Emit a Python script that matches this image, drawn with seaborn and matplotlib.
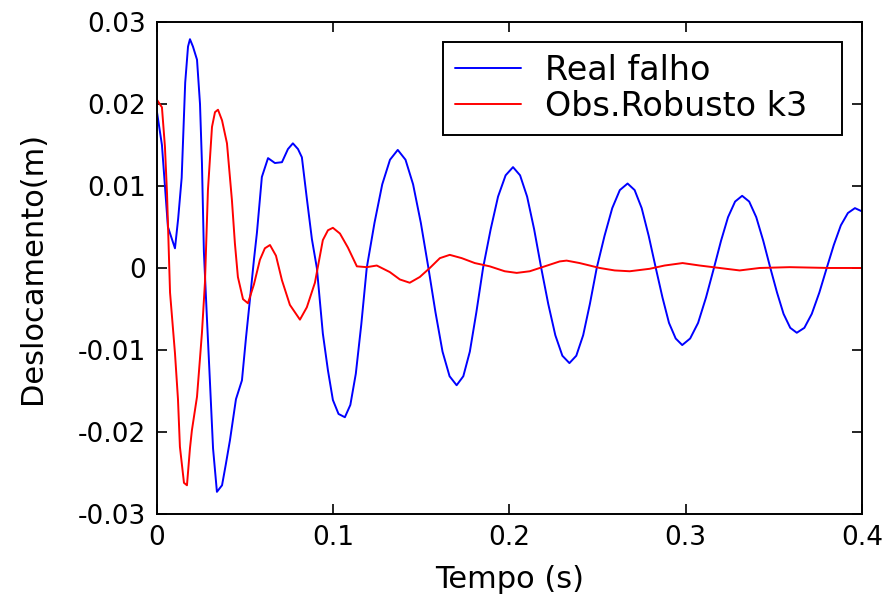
import numpy as np
import pandas as pd
import matplotlib
matplotlib.use("Agg")
import matplotlib.pyplot as plt
import seaborn as sns

# ---- data ----
t_real = [0.0, 0.0028, 0.0062, 0.0102, 0.012, 0.014, 0.016, 0.0176, 0.0187, 0.0204,
          0.0227, 0.0244, 0.0255, 0.0266, 0.0283, 0.030, 0.0318, 0.034, 0.0369, 0.039,
          0.0414, 0.0448, 0.0482, 0.0505, 0.0527, 0.055, 0.0567, 0.0595, 0.063, 0.0669,
          0.0709, 0.0743, 0.0771, 0.080, 0.0822, 0.085, 0.0879, 0.0907, 0.0941, 0.097,
          0.0998, 0.103, 0.1066, 0.1097, 0.1128, 0.1159, 0.119, 0.1234, 0.1278, 0.1322,
          0.1366, 0.141, 0.1453, 0.1497, 0.154, 0.158, 0.162, 0.166, 0.170, 0.1738,
          0.1775, 0.1812, 0.185, 0.1893, 0.1935, 0.1978, 0.202, 0.206, 0.210, 0.214,
          0.218, 0.222, 0.226, 0.230, 0.234, 0.2379, 0.2418, 0.2456, 0.2495, 0.2539,
          0.2583, 0.2626, 0.267, 0.271, 0.275, 0.279, 0.283, 0.2868, 0.2905, 0.2943,
          0.298, 0.3025, 0.307, 0.3115, 0.316, 0.320, 0.324, 0.328, 0.332, 0.336,
          0.340, 0.344, 0.348, 0.3518, 0.3555, 0.3593, 0.363, 0.3673, 0.3715, 0.3758,
          0.380, 0.384, 0.388, 0.392, 0.396, 0.400]
y_real = [0.0190, 0.0150, 0.0050, 0.0024, 0.0060, 0.0110, 0.0226, 0.0270, 0.0279, 0.0270,
          0.0254, 0.0200, 0.0128, 0.0020, -0.0060, -0.0137, -0.0220, -0.0273, -0.0265, -0.0240,
          -0.0210, -0.0160, -0.0137, -0.0085, -0.0039, 0.0010, 0.0043, 0.0111, 0.0134, 0.0128,
          0.0129, 0.0145, 0.0152, 0.0145, 0.0135, 0.0085, 0.0035, 0.0000, -0.0080, -0.0125,
          -0.0161, -0.0178, -0.0182, -0.0167, -0.0129, -0.0069, 0.0000, 0.0055, 0.0102, 0.0132,
          0.0144, 0.0132, 0.0102, 0.0055, 0.0000, -0.0054, -0.0102, -0.0132, -0.0143, -0.0132,
          -0.0102, -0.0054, 0.0000, 0.0047, 0.0087, 0.0113, 0.0123, 0.0113, 0.0087, 0.0047,
          0.0000, -0.0044, -0.0082, -0.0107, -0.0116, -0.0107, -0.0082, -0.0044, 0.0000, 0.0039,
          0.0073, 0.0095, 0.0103, 0.0095, 0.0073, 0.0039, 0.0000, -0.0036, -0.0067, -0.0086,
          -0.0094, -0.0086, -0.0067, -0.0036, 0.0000, 0.0033, 0.0062, 0.0081, 0.0088, 0.0081,
          0.0062, 0.0033, 0.0000, -0.0030, -0.0056, -0.0073, -0.0079, -0.0073, -0.0056, -0.0030,
          0.0000, 0.0028, 0.0052, 0.0067, 0.0073, 0.0069]

t_obs = [0.0, 0.0028, 0.0045, 0.0057, 0.0074, 0.0102, 0.0119, 0.013, 0.0153, 0.017,
         0.0187, 0.0198, 0.0227, 0.0244, 0.0255, 0.0272, 0.0289, 0.0312, 0.0329, 0.0346,
         0.0369, 0.0397, 0.0425, 0.0442, 0.0459, 0.0488, 0.0516, 0.055, 0.0584, 0.0612,
         0.0641, 0.0675, 0.0709, 0.0754, 0.0811, 0.085, 0.0896, 0.0941, 0.097, 0.0998,
         0.1038, 0.1083, 0.1134, 0.119, 0.1247, 0.1321, 0.1378, 0.1434, 0.1491, 0.1548,
         0.1605, 0.1661, 0.1729, 0.1803, 0.1888, 0.1973, 0.2041, 0.2115, 0.220, 0.2285,
         0.2324, 0.2398, 0.2512, 0.2597, 0.2682, 0.2795, 0.288, 0.2982, 0.3079, 0.3192,
         0.3306, 0.3419, 0.359, 0.3816, 0.400]
y_obs = [0.0205, 0.0196, 0.0148, 0.0090, -0.0030, -0.0104, -0.0160, -0.0218, -0.0262, -0.0265,
         -0.0220, -0.0198, -0.0157, -0.0110, -0.0079, -0.0018, 0.0095, 0.0172, 0.0190, 0.0193,
         0.0180, 0.0152, 0.0083, 0.0030, -0.0011, -0.0038, -0.0043, -0.0020, 0.0010, 0.0024,
         0.0028, 0.0015, -0.0015, -0.0045, -0.0063, -0.0048, -0.0018, 0.0034, 0.0046, 0.0049,
         0.0042, 0.0025, 0.0002, 0.0001, 0.0003, -0.0005, -0.0014, -0.0018, -0.0011, 0.0000,
         0.0012, 0.0016, 0.0012, 0.0006, 0.0002, -0.0004, -0.0006, -0.0004, 0.0002, 0.0008,
         0.0009, 0.0006, 0.0000, -0.0003, -0.0004, -0.0001, 0.0003, 0.0006, 0.0003, 0.0000,
         -0.0003, 0.0000, 0.0001, 0.0000, 0.0000]

series_names = ["Real falho", "Obs.Robusto k3"]
series_colors = ["#0000ff", "#ff0000"]
x_ticks = [0, 0.1, 0.2, 0.3, 0.4]
x_tick_labels = ["0", "0.1", "0.2", "0.3", "0.4"]
y_ticks = [-0.03, -0.02, -0.01, 0, 0.01, 0.02, 0.03]
y_tick_labels = ["-0.03", "-0.02", "-0.01", "0", "0.01", "0.02", "0.03"]

df = pd.concat([
    pd.DataFrame({"t": t_real, "y": y_real, "serie": series_names[0]}),
    pd.DataFrame({"t": t_obs, "y": y_obs, "serie": series_names[1]}),
], ignore_index=True)

sns.set_style("ticks")
plt.rcParams["font.family"] = ["DejaVu Sans"]
plt.rcParams["text.color"] = "black"
plt.rcParams["axes.labelcolor"] = "black"
plt.rcParams["xtick.color"] = "black"
plt.rcParams["ytick.color"] = "black"
plt.rcParams["xtick.direction"] = "in"
plt.rcParams["ytick.direction"] = "in"

fig = plt.figure(figsize=(8.86, 6.02), dpi=100)
ax = fig.add_axes([0.1772, 0.1462, 0.7957, 0.8173])

sns.lineplot(data=df, x="t", y="y", hue="serie", hue_order=series_names,
             palette=series_colors, estimator=None, sort=False, linewidth=1.4, ax=ax)

ax.set_xlim(0, 0.4)
ax.set_ylim(-0.03, 0.03)
ax.set_xticks(x_ticks)
ax.set_xticklabels(x_tick_labels)
ax.set_yticks(y_ticks)
ax.set_yticklabels(y_tick_labels)
ax.tick_params(axis="both", which="both", direction="in", length=7, width=1.2,
               top=True, right=True, labelsize=19, pad=8, colors="black")
for s in ax.spines.values():
    s.set_visible(True)
    s.set_linewidth(1.4)
    s.set_color("black")

ax.set_xlabel("Tempo (s)", fontsize=22, labelpad=10, color="black")
ax.set_ylabel("Deslocamento(m)", fontsize=22, labelpad=22, color="black")

leg = ax.legend(loc="upper left", bbox_to_anchor=(0.4057, 0.5, 0.5659, 0.4593),
                mode="expand", fontsize=24,
                frameon=True, fancybox=False, edgecolor="black", framealpha=1,
                handlelength=2.0, handletextpad=0.72, labelspacing=0.1,
                borderpad=0.35, borderaxespad=0)
leg.get_frame().set_linewidth(1.4)
for txt in leg.get_texts():
    txt.set_color("black")
for line in leg.get_lines():
    line.set_linewidth(1.4)

fig.savefig("out.png", dpi=100, facecolor="white")
